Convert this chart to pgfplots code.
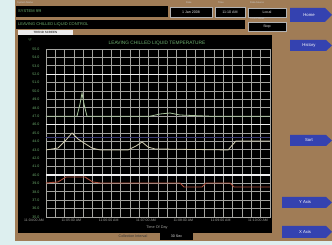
\documentclass[border=0pt]{standalone}
\usepackage{pgfplots}
\pgfplotsset{compat=1.18}
\usepackage{fontspec}
\setmainfont{Liberation Sans}
\definecolor{bgbrown}{HTML}{A07C56}
\definecolor{bglight}{HTML}{DDEFEF}
\definecolor{btnblue}{HTML}{3442B0}
\definecolor{lcdgreen}{HTML}{6FB070}
\definecolor{gridc}{HTML}{A4A4A0}
\definecolor{lineg}{HTML}{A8C49C}
\definecolor{linec}{HTML}{D0CCB0}
\definecolor{liner}{HTML}{B0503C}
\definecolor{lineb}{HTML}{3C3C78}
\newcommand\tf[1]{\fontsize{#1}{#1}\selectfont}
\begin{document}
\begin{tikzpicture}[x=1pt,y=1pt]
\useasboundingbox (0,0) rectangle (332,245);
\fill[bgbrown] (0,0) rectangle (332,245);
\fill[bglight] (0,0) rectangle (15,245);
\fill[bglight] (0,0) rectangle (332,4);
% header
\node[anchor=west,text=gray!40,font=\tf{2.5},inner sep=0] at (17,242) {System Name};
\node[anchor=west,text=gray!40,font=\tf{2.5},inner sep=0] at (186,242) {Date};
\node[anchor=west,text=gray!40,font=\tf{2.5},inner sep=0] at (218,242) {Time};
\node[anchor=west,text=gray!40,font=\tf{2.5},inner sep=0] at (250,242) {Data Source};
\fill[black] (16,228) rectangle (168,239);
\node[anchor=west,text=lcdgreen,font=\tf{4},inner sep=0] at (18,233.5) {SYSTEM 9/9};
\draw[gray!60,fill=black] (170,228) rectangle (212,238);
\node[text=gray!20,font=\tf{3.6},inner sep=0] at (191,233) {1 Jan 2008};
\draw[gray!60,fill=black] (215,228) rectangle (245,238);
\node[text=gray!20,font=\tf{3.6},inner sep=0] at (230,233) {11:10 AM};
\draw[gray!60,fill=black] (248,228) rectangle (286,237);
\node[text=gray!20,font=\tf{3.6},inner sep=0] at (267,232.5) {Local};
\fill[black] (16,216) rectangle (245,225);
\node[anchor=west,text=lcdgreen,font=\tf{4},inner sep=0] at (18,220.5) {LEAVING CHILLED LIQUID CONTROL};
\node[anchor=west,text=gray!40,font=\tf{2.5},inner sep=0] at (250,226) {Trend Status};
\draw[gray!60,fill=black] (248,214) rectangle (286,223);
\node[text=gray!20,font=\tf{3.6},inner sep=0] at (267,218.5) {Stop};
\fill[gray!15] (18,210) rectangle (73,214.5);
\node[text=black,font=\tf{3},inner sep=0] at (45.5,212.2) {TREND SCREEN};
% panel
\fill[black] (18,12) rectangle (272,209.5);
\node[text=lcdgreen,font=\tf{4.8},inner sep=0] at (157,202) {LEAVING CHILLED LIQUID TEMPERATURE};
\node[text=lcdgreen,font=\tf{3.5},inner sep=0] at (30,205) {\textdegree F};
\node[text=gridc,font=\tf{3.8},inner sep=0] at (157,17) {Time Of Day};
\node[text=black!80,font=\tf{3.6},inner sep=0] at (133,8.5) {Collection Interval};
\fill[black] (160,5) rectangle (193,12);
\node[text=gray!20,font=\tf{3.6},inner sep=0] at (176.5,8.5) {30 Sec};
% buttons
\fill[btnblue] (290,223)--(325,223)--(332,230)--(325,237)--(290,237)--cycle;
\node[text=white,font=\tf{4.2},inner sep=0] at (309,230) {Home};
\fill[btnblue] (290,194)--(326,194)--(332,199.5)--(326,205)--(290,205)--cycle;
\node[text=white,font=\tf{4.2},inner sep=0] at (309,199.5) {History};
\fill[btnblue] (290,99)--(326,99)--(332,104.5)--(326,110)--(290,110)--cycle;
\node[text=white,font=\tf{4.2},inner sep=0] at (309,104.5) {Sort};
\fill[btnblue] (282,37)--(326,37)--(332,42.5)--(326,48)--(282,48)--cycle;
\node[text=white,font=\tf{4.2},inner sep=0] at (305,42.5) {Y Axis};
\fill[btnblue] (282,7)--(326,7)--(332,13)--(326,19)--(282,19)--cycle;
\node[text=white,font=\tf{4.2},inner sep=0] at (305,13) {X Axis};
\begin{axis}[at={(46pt,28pt)}, anchor=south west, scale only axis,
  width=224pt, height=168pt,
  xmin=0, xmax=24, ymin=35, ymax=55,
  xtick={0,4,...,24}, minor x tick num=3,
  ytick={35,36,...,55},
  grid=both,
  major grid style={gridc, line width=0.9pt},
  minor grid style={gridc, line width=0.9pt},
  axis line style={gridc, line width=0.9pt},
  tick style={draw=none},
  /pgf/number format/assume math mode=true,
  xticklabels={11:04:00 AM,11:05:00 AM,11:06:00 AM,11:07:00 AM,11:08:00 AM,11:09:00 AM,11:10:00 AM},
  xticklabel style={font=\tf{3.5}, text=gridc, xshift=-12pt, yshift=1.5pt},
  yticklabel style={font=\tf{3.6}, text=lcdgreen, xshift=-3pt,
    /pgf/number format/fixed, /pgf/number format/fixed zerofill, /pgf/number format/precision=1},
  extra y ticks={40,46,52}, extra y tick labels={},
  extra y tick style={grid=major, major grid style={white!90!gray, line width=1.1pt}},
]
\addplot[lineb, line width=0.9pt] coordinates {(0,44.5) (24,44.5)};
\addplot[lineg, line width=0.8pt] coordinates {
(0,47.0) (3.32,47.0) (3.64,48.45) (3.86,49.76) (4.07,48.45) (4.39,47.0)
(11.15,47.0) (12.22,47.26) (13.29,47.38) (14.36,47.14) (17.58,47.0) (24,47.0)};
\addplot[linec, line width=0.8pt] coordinates {
(0,42.98) (1.29,43.21) (2.14,44.17) (2.79,45.0) (3.43,44.29) (4.07,43.81)
(4.93,43.21) (5.79,42.98) (8.79,42.98) (9.65,43.45) (10.29,43.93) (10.93,43.33)
(11.68,43.1) (19.5,42.98) (20.36,44.05) (24,44.05)};
\addplot[liner, line width=0.9pt] coordinates {
(0,39.05) (1.29,39.17) (2.14,39.76) (4.18,39.76) (4.99,39.17) (5.79,39.05)
(14.36,39.05) (14.79,38.57) (16.72,38.57) (17.15,39.05) (19.72,39.05)
(20.15,38.57) (24,38.57)};
\end{axis}
\end{tikzpicture}
\end{document}
